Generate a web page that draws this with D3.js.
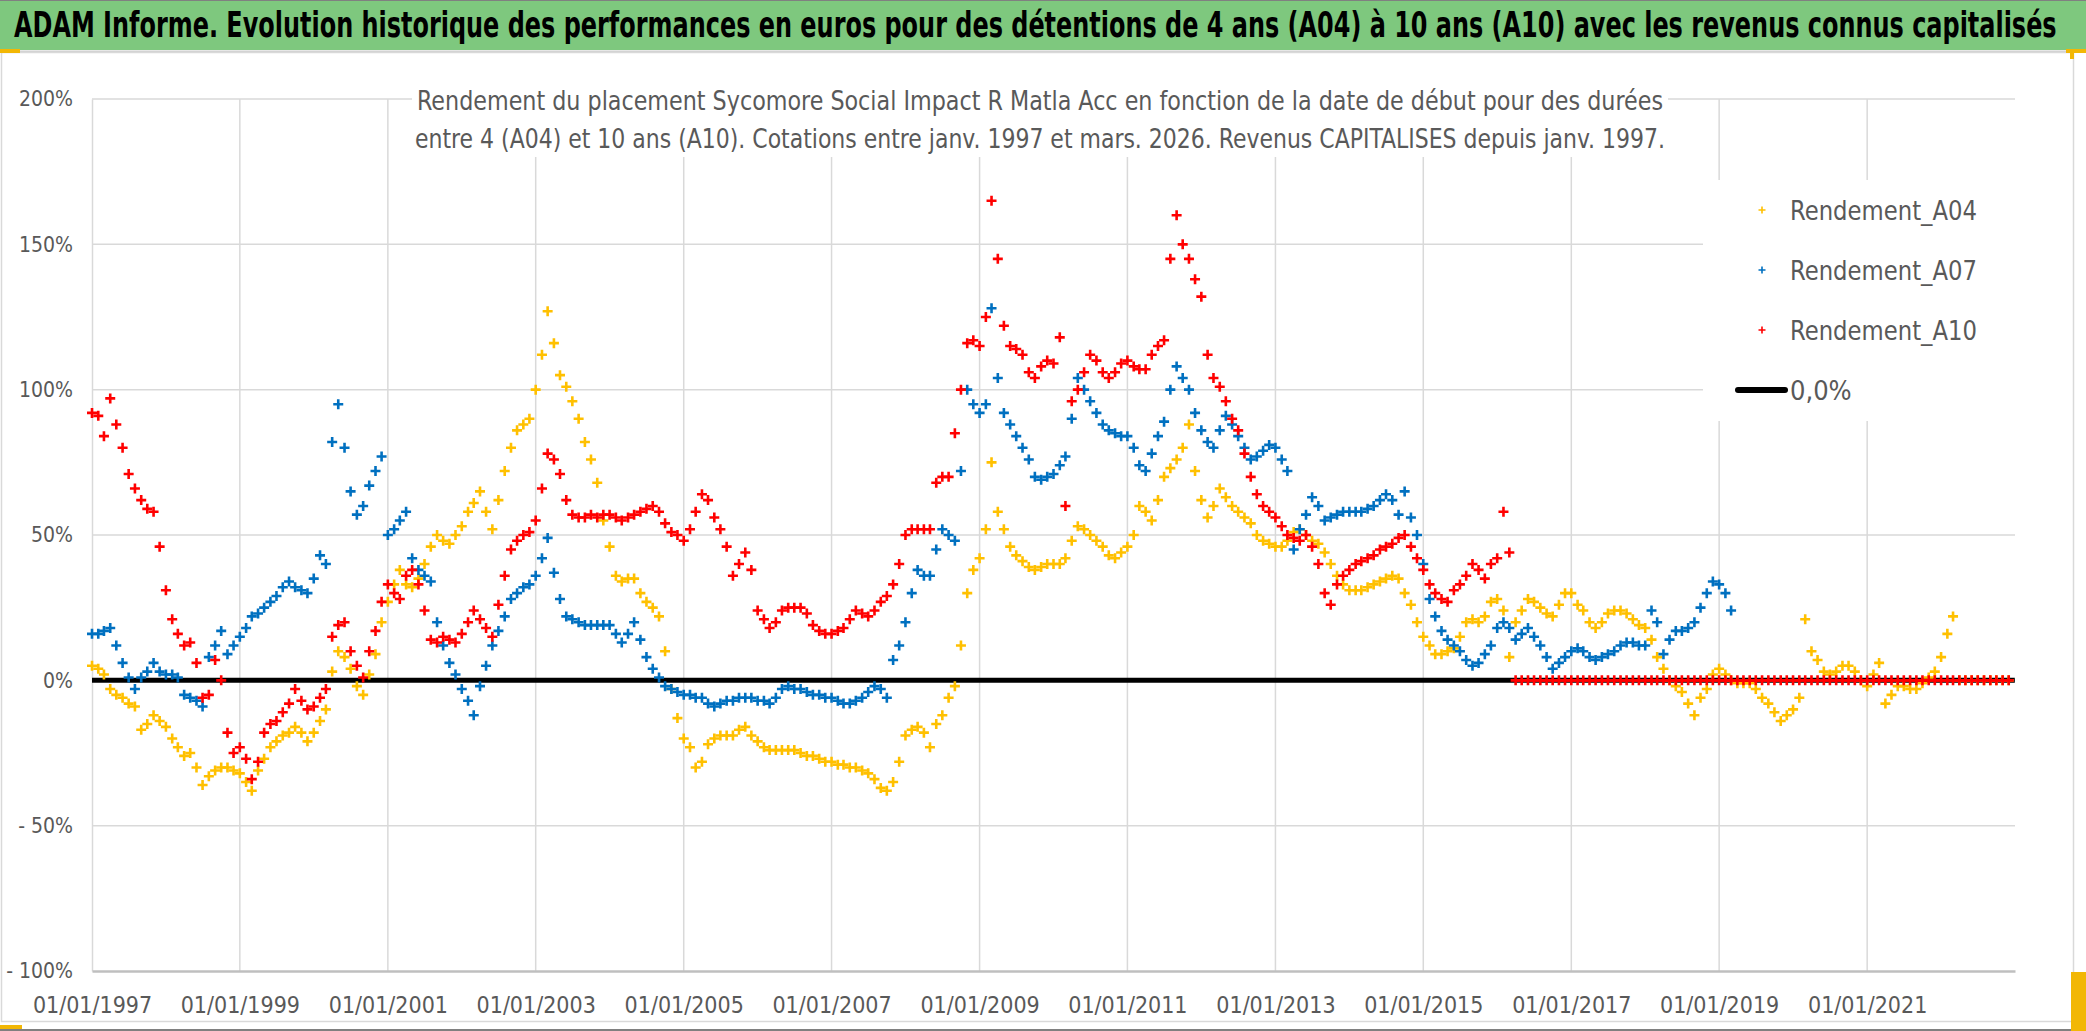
<!DOCTYPE html>
<html>
<head>
<meta charset="utf-8">
<script src="https://cdn.jsdelivr.net/npm/d3@7"></script>
<style>
  body { margin: 0; background: #fff; }
  svg { display: block; }
  text { font-family: "Liberation Sans Narrow", "Arial Narrow", "DejaVu Sans Condensed", sans-serif; }
</style>
</head>
<body>
<svg id="svg" width="2086" height="1031"></svg>
<script>
// ---- chart data (values in %, one value per month from janv. 1997) ----
var titleText = "ADAM Informe. Evolution historique des performances en euros pour des détentions de 4 ans (A04) à 10 ans (A10) avec les revenus connus capitalisés";
var subtitleLines = [
  "Rendement du placement Sycomore Social Impact R Matla Acc en fonction de la date de début pour des durées",
  "entre 4 (A04) et 10 ans (A10). Cotations entre janv. 1997 et mars. 2026. Revenus CAPITALISES depuis janv. 1997."
];
var firstMonth = new Date(1997, 0, 1);

var rendementA04 = [
  5, 4, 2, -3, -5, -6, -8, -9, -17, -15, -12, -14,
  -16, -20, -23, -26, -25, -30, -36, -33, -31, -30, -30, -31,
  -32, -35, -38, -31, -27, -23, -21, -19, -18, -16, -18, -21,
  -18, -14, -10, 3, 10, 8, 4, -2, -5, 2, 9, 20,
  27, 33, 38, 33, 32, 35, 40, 46, 50, 48, 47, 50,
  53, 58, 61, 65, 58, 52, 62, 72, 80, 86, 88, 90,
  100, 112, 127, 116, 105, 101, 96, 90, 82, 76, 68, 55,
  46, 36, 34, 35, 35, 30, 27, 25, 22, 10, -3, -13,
  -20, -23, -30, -28, -22, -20, -19, -19, -19, -17, -16, -19,
  -21, -23, -24, -24, -24, -24, -24, -25, -26, -26, -27, -28,
  -28, -29, -29, -30, -30, -31, -32, -34, -37, -38, -35, -28,
  -19, -17, -16, -18, -23, -15, -12, -6, -2, 12, 30, 38,
  42, 52, 75, 58, 52, 46, 43, 41, 39, 38, 39, 40,
  40, 40, 42, 48, 53, 52, 50, 48, 46, 43, 42, 44,
  46, 50, 60, 58, 55, 62, 70, 73, 76, 80, 88, 72,
  62, 56, 60, 66, 63, 60, 58, 56, 54, 50, 48, 47,
  46, 46, 48, 51, 52, 50, 48, 47, 44, 40, 36, 33,
  31, 31, 31, 32, 33, 34, 35, 36, 35, 30, 26, 20,
  15, 12, 9, 9, 10, 11, 15, 20, 21, 20, 22, 27,
  28, 24, 8, 20, 24, 28, 27, 25, 23, 22, 26, 30,
  30, 26, 24, 20, 18, 20, 23, 24, 24, 23, 21, 19,
  18, 14, 8, 4, 0, -2, -4, -8, -12, -6, -3, 2,
  4, 2, 0, -1, -1, -1, -3, -6, -8, -11, -14, -12,
  -10, -6, 21, 10, 7, 3, 2, 3, 5, 5, 3, 0,
  -2, 2, 6, -8, -5, -2, -2, -3, -3, -1, 1, 3,
  8, 16, 22, 0, 0, 0, 0, 0, 0, 0, 0, 0
];

var rendementA07 = [
  16, 16, 17, 18, 12, 6, 1, -3, 1, 3, 6, 3,
  2, 2, 1, -5, -6, -7, -9, 8, 12, 17, 9, 12,
  15, 18, 22, 23, 25, 27, 29, 32, 34, 32, 31, 30,
  35, 43, 40, 82, 95, 80, 65, 57, 60, 67, 72, 77,
  50, 52, 55, 58, 42, 38, 36, 34, 20, 12, 6, 2,
  -3, -7, -12, -2, 5, 12, 17, 22, 28, 30, 32, 33,
  36, 42, 49, 37, 28, 22, 21, 20, 19, 19, 19, 19,
  19, 16, 13, 16, 20, 14, 8, 4, 1, -2, -3, -4,
  -5, -5, -6, -6, -8, -9, -8, -7, -7, -6, -6, -6,
  -7, -7, -8, -6, -3, -2, -3, -3, -4, -5, -5, -6,
  -6, -7, -8, -8, -7, -6, -4, -2, -3, -6, 7, 12,
  20, 30, 38, 36, 36, 45, 52, 50, 48, 72, 100, 95,
  92, 95, 128, 104, 92, 88, 84, 80, 76, 70, 69, 70,
  71, 74, 77, 90, 104, 100, 96, 92, 88, 86, 85, 84,
  84, 80, 74, 72, 78, 84, 89, 100, 108, 104, 100, 92,
  86, 82, 80, 86, 91, 88, 84, 80, 76, 77, 79, 81,
  80, 76, 72, 45, 52, 57, 63, 60, 55, 56, 57, 58,
  58, 58, 58, 59, 60, 62, 64, 62, 57, 65, 56, 50,
  40, 28, 22, 17, 14, 12, 10, 7, 5, 6, 9, 12,
  18, 20, 18, 14, 16, 18, 15, 12, 8, 4, 6, 8,
  10, 11, 10, 8, 7, 8, 9, 10, 12, 13, 13, 12,
  12, 24, 20, 9, 14, 17, 17, 18, 20, 25, 30, 34,
  33, 30, 24
];

var rendementA10 = [
  92, 91, 84, 97, 88, 80, 71, 66, 62, 59, 58, 46,
  31, 21, 16, 12, 13, 6, -6, -5, 7, 0, -18, -25,
  -23, -27, -34, -28, -18, -15, -14, -11, -8, -3, -7, -10,
  -9, -6, -3, 15, 19, 20, 10, 5, 1, 10, 17, 27,
  33, 30, 28, 36, 38, 33, 24, 14, 13, 15, 14, 13,
  16, 20, 24, 21, 18, 15, 26, 36, 45, 48, 50, 51,
  55, 66, 78, 76, 71, 62, 57, 56, 56, 57, 56, 57,
  57, 56, 55, 56, 57, 58, 59, 60, 58, 54, 51, 50,
  48, 52, 58, 64, 62, 56, 52, 46, 36, 40, 44, 38,
  24, 21, 18, 20, 24, 25, 25, 25, 23, 19, 17, 16,
  16, 17, 18, 21, 24, 23, 22, 24, 27, 29, 33, 40,
  50, 52, 52, 52, 52, 68, 70, 70, 85, 100, 116, 117,
  115, 125, 165, 145, 122, 115, 114, 112, 106, 104, 108, 110,
  109, 118, 60, 96, 100, 106, 112, 110, 106, 104, 106, 109,
  110, 108, 107, 107, 112, 115, 117, 145, 160, 150, 145, 138,
  132, 112, 104, 101, 96, 90, 86, 78, 70, 64, 60, 58,
  56, 53, 50, 49, 48, 50, 46, 40, 30, 26, 33, 36,
  38, 40, 41, 42, 43, 45, 46, 47, 49, 50, 46, 42,
  38, 33, 30, 28, 27, 31, 33, 36, 40, 38, 35, 40,
  42, 58, 44, 0, 0, 0, 0, 0, 0, 0, 0, 0,
  0, 0, 0, 0, 0, 0, 0, 0, 0, 0, 0, 0,
  0, 0, 0, 0, 0, 0, 0, 0, 0, 0, 0, 0,
  0, 0, 0, 0, 0, 0, 0, 0, 0, 0, 0, 0,
  0, 0, 0, 0, 0, 0, 0, 0, 0, 0, 0, 0,
  0, 0, 0, 0, 0, 0, 0, 0, 0, 0, 0, 0,
  0, 0, 0, 0, 0, 0, 0, 0, 0, 0, 0, 0
];

var zeroDates = [new Date(1997, 0, 1), new Date(2022, 11, 31)];
var zeroValues = [0, 0];

var xTickYears = [1997, 1999, 2001, 2003, 2005, 2007, 2009, 2011, 2013, 2015, 2017, 2019, 2021];
var yTickValues = [-100, -50, 0, 50, 100, 150, 200];
var seriesNames = ["Rendement_A04", "Rendement_A07", "Rendement_A10"];
var seriesColors = ["#FFC000", "#0070C0", "#FF0000"];
var zeroLabel = "0,0%";

// ---- layout ----
var svg = d3.select("#svg");
var W = 2086, H = 1031;
var plot = { left: 92, right: 2015, top: 99, bottom: 971 };

var xScale = d3.scaleTime()
  .domain([new Date(1997, 0, 1), new Date(2023, 0, 1)])
  .range([plot.left, plot.right]);
var yScale = d3.scaleLinear()
  .domain([-100, 200])
  .range([plot.bottom, plot.top]);

// title band
svg.append("rect").attr("x", 0).attr("y", 0).attr("width", W).attr("height", 50)
  .attr("fill", "#7ec87e");
svg.append("line").attr("x1", 0).attr("x2", W).attr("y1", 0.5).attr("y2", 0.5)
  .attr("stroke", "#808080");
svg.append("line").attr("x1", 0).attr("x2", 2074).attr("y1", 51.5).attr("y2", 51.5)
  .attr("stroke", "#d0d0d0").attr("stroke-width", 2);

// the title font is narrower and taller than what we have: size it to the
// width it needs, then stretch it vertically up to the reference height
var title = svg.append("text")
  .attr("font-size", 30).attr("font-weight", "bold").attr("fill", "#000")
  .text(titleText);
var titleSize = 30 * 2044 / title.node().getComputedTextLength();
title.attr("font-size", titleSize)
  .attr("transform", "translate(14,37) scale(1," + (35 / titleSize) + ")");

// chart area frame and selection handles
svg.append("rect").attr("x", 1.5).attr("y", 52.5).attr("width", 2072).attr("height", 969)
  .attr("fill", "none").attr("stroke", "#d9d9d9").attr("stroke-width", 1.5);
svg.append("line").attr("x1", 0).attr("x2", W).attr("y1", 1030).attr("y2", 1030)
  .attr("stroke", "#808080").attr("stroke-width", 2);
var handles = [[0, 49, 20, 4], [2066, 49, 20, 4], [2070, 49, 4, 10], [2071, 972, 15, 59], [0, 1025, 22, 4]];
svg.selectAll(".handle").data(handles).enter().append("rect")
  .attr("x", function (d) { return d[0]; }).attr("y", function (d) { return d[1]; })
  .attr("width", function (d) { return d[2]; }).attr("height", function (d) { return d[3]; })
  .attr("fill", "#f2b705");

// gridlines
var grid = svg.append("g");
grid.selectAll(".hgrid").data(yTickValues.filter(function (v) { return v > -100; }))
  .enter().append("line")
  .attr("x1", plot.left).attr("x2", plot.right)
  .attr("y1", function (d) { return yScale(d); })
  .attr("y2", function (d) { return yScale(d); })
  .attr("stroke", "#d9d9d9").attr("stroke-width", 1.5);
grid.selectAll(".vgrid").data(xTickYears.slice(1))
  .enter().append("line")
  .attr("x1", function (d) { return xScale(new Date(d, 0, 1)); })
  .attr("x2", function (d) { return xScale(new Date(d, 0, 1)); })
  .attr("y1", plot.top).attr("y2", plot.bottom)
  .attr("stroke", "#d9d9d9").attr("stroke-width", 1.5);

// axes
var yAxis = svg.append("g")
  .attr("transform", "translate(" + plot.left + ",0)")
  .call(d3.axisLeft(yScale).tickValues(yTickValues).tickSize(0).tickPadding(19)
    .tickFormat(function (v) { return v < 0 ? "- " + Math.abs(v) + "%" : v + "%"; }));
yAxis.select(".domain").attr("stroke", "#d9d9d9").attr("stroke-width", 1.5);
yAxis.selectAll("text").attr("font-size", 21).attr("fill", "#595959")
  .style("font-family", "\"Liberation Sans Narrow\", \"DejaVu Sans Condensed\", sans-serif");

var xAxis = svg.append("g")
  .attr("transform", "translate(0," + plot.bottom + ")")
  .call(d3.axisBottom(xScale)
    .tickValues(xTickYears.map(function (y) { return new Date(y, 0, 1); }))
    .tickSize(0).tickPadding(26)
    .tickFormat(d3.timeFormat("%d/%m/%Y")));
xAxis.select(".domain").attr("stroke", "#bfbfbf").attr("stroke-width", 2.5);
xAxis.selectAll("text").attr("font-size", 23).attr("fill", "#595959")
  .style("font-family", "\"Liberation Sans Narrow\", \"DejaVu Sans Condensed\", sans-serif");

// 0,0% reference line (drawn under the markers)
var zeroLine = d3.line()
  .x(function (d, i) { return xScale(zeroDates[i]); })
  .y(function (d) { return yScale(d); });
svg.append("path").datum(zeroValues)
  .attr("d", zeroLine)
  .attr("fill", "none").attr("stroke", "#000").attr("stroke-width", 5);

// plus markers
function plusPath(s) {
  return "M" + (-s) + ",0H" + s + "M0," + (-s) + "V" + s;
}
var allSeries = [rendementA04, rendementA07, rendementA10];
allSeries.forEach(function (values, k) {
  svg.append("g").selectAll("path")
    .data(values)
    .enter().append("path")
    .attr("transform", function (d, i) {
      return "translate(" + xScale(d3.timeMonth.offset(firstMonth, i)) + "," + yScale(d) + ")";
    })
    .attr("d", plusPath(5))
    .attr("fill", "none")
    .attr("stroke", seriesColors[k])
    .attr("stroke-width", 2.6);
});

// subtitle box
svg.append("rect").attr("x", 412).attr("y", 78).attr("width", 1256).attr("height", 79)
  .attr("fill", "#fff");
svg.selectAll(".subtitle").data(subtitleLines)
  .enter().append("text")
  .attr("x", 1040)
  .attr("y", function (d, i) { return 110 + i * 38; })
  .attr("text-anchor", "middle")
  .attr("font-size", 27).attr("fill", "#595959")
  .attr("textLength", function (d, i) { return i === 0 ? 1246 : 1250; })
  .attr("lengthAdjust", "spacingAndGlyphs")
  .text(function (d) { return d; });

// legend
var legend = svg.append("g");
legend.append("rect").attr("x", 1703).attr("y", 180).attr("width", 312).attr("height", 241)
  .attr("fill", "#fff");
seriesNames.forEach(function (name, i) {
  var ly = 210 + i * 60;
  legend.append("path")
    .attr("transform", "translate(1762," + ly + ")")
    .attr("d", plusPath(3.5))
    .attr("stroke", seriesColors[i]).attr("stroke-width", 1.6).attr("fill", "none");
  legend.append("text")
    .attr("x", 1790).attr("y", ly + 10)
    .attr("font-size", 27).attr("fill", "#595959")
    .attr("textLength", 187).attr("lengthAdjust", "spacingAndGlyphs")
    .text(name);
});
legend.append("line")
  .attr("x1", 1738).attr("x2", 1785).attr("y1", 390).attr("y2", 390)
  .attr("stroke", "#000").attr("stroke-width", 6).attr("stroke-linecap", "round");
legend.append("text")
  .attr("x", 1790).attr("y", 400)
  .attr("font-size", 27).attr("fill", "#595959")
  .text(zeroLabel);
</script>
</body>
</html>
